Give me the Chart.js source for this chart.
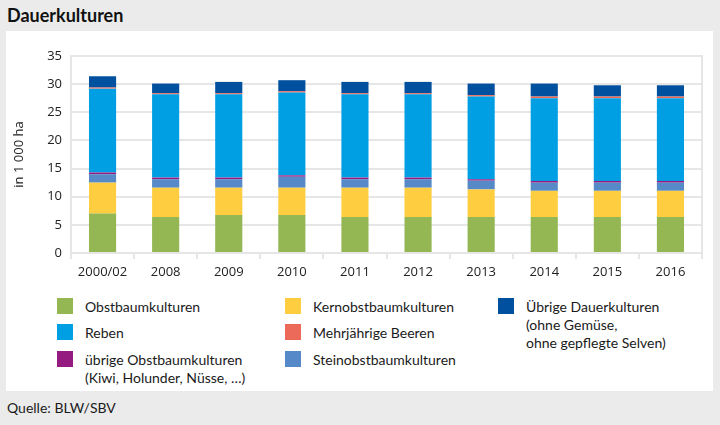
<!DOCTYPE html>
<html>
<head>
  <title>Dauerkulturen</title>
  <script src="https://cdn.jsdelivr.net/npm/chart.js@4/dist/chart.umd.min.js"></script>
  <style>
    body {
      margin: 0;
      width: 720px;
      height: 425px;
      background: #ebebeb;
      font-family: Lato, sans-serif;
      position: relative;
      overflow: hidden;
    }
    .title {
      position: absolute;
      left: 7px;
      top: 4px;
      font-size: 18px;
      font-weight: bold;
      color: #111;
    }
    .panel {
      position: absolute;
      left: 6px;
      top: 31px;
      width: 707px;
      height: 360px;
      background: #fff;
    }
    canvas#chart {
      position: absolute;
      left: 0;
      top: 0;
    }
    .legend-item {
      position: absolute;
      font-size: 14px;
      line-height: 18px;
      color: #1a1a1a;
    }
    .legend-item .box {
      position: absolute;
      left: -28px;
      top: 0px;
      width: 16px;
      height: 16px;
    }
    .source {
      position: absolute;
      left: 7px;
      top: 399px;
      font-size: 14px;
      color: #1a1a1a;
    }
  </style>
</head>
<body>
  <div class="title">Dauerkulturen</div>
  <div class="panel"></div>
  <div style="position:absolute;left:0;top:0;width:720px;height:280px;">
    <canvas id="chart" width="720" height="280"></canvas>
  </div>
  <div id="legend"></div>
  <div class="source">Quelle: BLW/SBV</div>
  <script>
    // Kategorien
    var years = ['2000/02', '2008', '2009', '2010', '2011', '2012', '2013', '2014', '2015', '2016'];

    // Werte in 1 000 ha (von unten nach oben gestapelt)
    var obstbaum = [7.0, 6.4, 6.75, 6.75, 6.4, 6.4, 6.4, 6.4, 6.4, 6.4];
    var kernobst = [5.5, 5.2, 4.85, 4.85, 5.2, 5.2, 4.9, 4.65, 4.65, 4.65];
    var steinobst = [1.5, 1.5, 1.5, 1.95, 1.5, 1.5, 1.55, 1.45, 1.45, 1.45];
    var uebrigeObst = [0.3, 0.3, 0.3, 0.25, 0.3, 0.3, 0.25, 0.3, 0.3, 0.3];
    var reben = [14.9, 14.8, 14.8, 14.7, 14.8, 14.8, 14.7, 14.7, 14.7, 14.7];
    var beeren = [0.2, 0.2, 0.2, 0.25, 0.2, 0.2, 0.25, 0.3, 0.3, 0.3];
    var uebrigeDauer = [2.0, 1.7, 2.0, 1.95, 2.0, 2.0, 2.05, 2.3, 2.0, 2.0];

    var yTicks = [0, 5, 10, 15, 20, 25, 30, 35];

    var series = [
      { label: 'Obstbaumkulturen', data: obstbaum, color: '#94b753' },
      { label: 'Kernobstbaumkulturen', data: kernobst, color: '#ffce40' },
      { label: 'Steinobstbaumkulturen', data: steinobst, color: '#5589c7' },
      { label: 'übrige Obstbaumkulturen', data: uebrigeObst, color: '#951b81' },
      { label: 'Reben', data: reben, color: '#009fe3' },
      { label: 'Mehrjährige Beeren', data: beeren, color: '#ec6a5a' },
      { label: 'Übrige Dauerkulturen', data: uebrigeDauer, color: '#0050a0' }
    ];

    var gridColor = '#e6e6e6';
    var tickFont = { family: "'Open Sans', sans-serif", size: 13 };

    // Rahmen um die Zeichenfläche
    var frame = {
      id: 'frame',
      beforeDatasetsDraw: function(chart) {
        var a = chart.chartArea;
        var c = chart.ctx;
        c.save();
        c.strokeStyle = gridColor;
        c.lineWidth = 2;
        c.strokeRect(a.left, a.top, a.right - a.left, a.bottom - a.top);
        c.restore();
      }
    };

    var ctx = document.getElementById('chart').getContext('2d');
    var myChart = new Chart(ctx, {
      type: 'bar',
      data: {
        labels: years,
        datasets: series.map(function(s) {
          return {
            label: s.label,
            data: s.data,
            backgroundColor: s.color,
            borderWidth: 0,
            barPercentage: 0.43,
            categoryPercentage: 1
          };
        })
      },
      options: {
        responsive: false,
        animation: false,
        layout: { padding: { left: 8, top: 56, right: 18, bottom: 0 } },
        plugins: {
          legend: { display: false },
          tooltip: { enabled: false }
        },
        scales: {
          x: {
            stacked: true,
            grid: {
              drawOnChartArea: false,
              color: gridColor,
              lineWidth: 2,
              tickLength: 6
            },
            border: { display: false },
            ticks: { font: tickFont, color: '#222', padding: 5, maxRotation: 0 },
            afterFit: function(scale) { scale.height = 27; }
          },
          y: {
            stacked: true,
            min: 0,
            max: 35,
            afterBuildTicks: function(scale) {
              scale.ticks = yTicks.map(function(v) { return { value: v }; });
            },
            grid: { color: gridColor, lineWidth: 2, drawTicks: false },
            border: { display: false },
            ticks: { font: tickFont, color: '#222', padding: 9 },
            title: {
              display: true,
              text: 'in 1 000 ha',
              font: tickFont,
              color: '#222',
              padding: { top: 3, bottom: 1 }
            },
            afterFit: function(scale) { scale.width = 63; }
          }
        }
      },
      plugins: [frame]
    });

    // Legende
    var legendPos = [
      { i: 0, x: 85, y: 298 },
      { i: 4, x: 85, y: 324 },
      { i: 3, x: 85, y: 351, extra: '(Kiwi, Holunder, Nüsse, …)' },
      { i: 1, x: 313, y: 298 },
      { i: 5, x: 313, y: 324 },
      { i: 2, x: 313, y: 351 },
      { i: 6, x: 526, y: 298, extra: '(ohne Gemüse,<br>ohne gepflegte Selven)' }
    ];
    var legend = document.getElementById('legend');
    legendPos.forEach(function(p) {
      var s = series[p.i];
      var item = document.createElement('div');
      item.className = 'legend-item';
      item.style.left = p.x + 'px';
      item.style.top = p.y + 'px';
      item.innerHTML = '<span class="box" style="background:' + s.color + '"></span>' +
        s.label + (p.extra ? '<br>' + p.extra : '');
      legend.appendChild(item);
    });
  </script>
</body>
</html>
